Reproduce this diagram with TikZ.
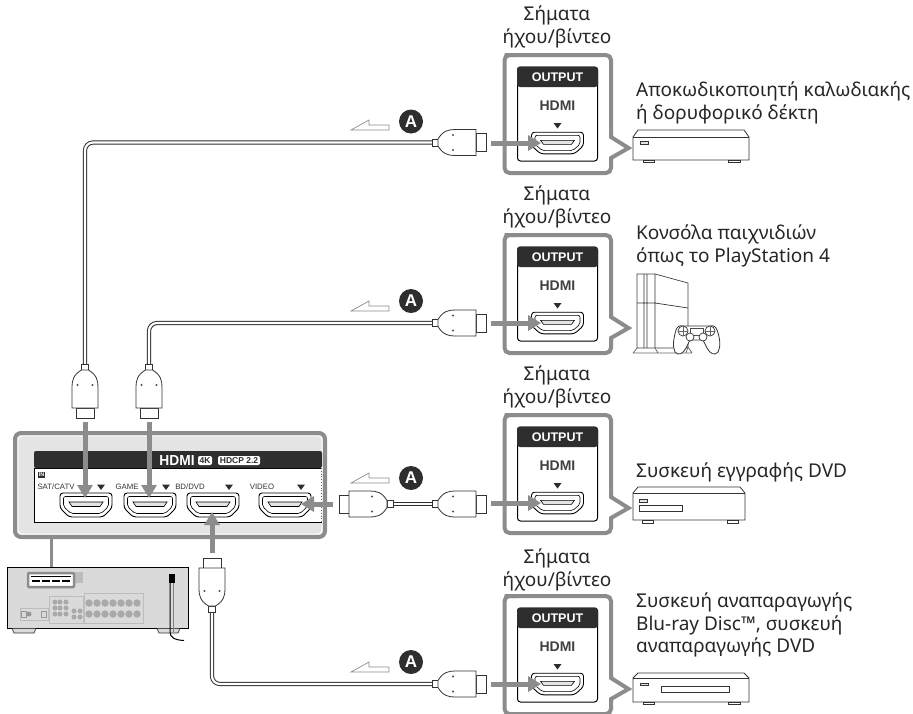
\documentclass[tikz,border=0pt]{standalone}
\usepackage{fontspec}
\setmainfont{Noto Sans}
\newfontfamily\lab{Liberation Sans}
\usetikzlibrary{arrows.meta}
\definecolor{grA}{HTML}{8C8C8C}
\definecolor{dk}{HTML}{2E2E2E}
\definecolor{pale}{HTML}{E4E4E4}
\definecolor{recv}{HTML}{DADADA}
\definecolor{conn}{HTML}{BDBDBD}
\tikzset{
 x=1pt,y=-1pt,
 txt/.style={font=\fontsize{19}{22.5}\selectfont,inner sep=0pt,text=black!85},
 lefttxt/.style={txt,align=left,anchor=west},
 midtxt/.style={txt,align=center},
 badge/.style={circle,fill=dk,text=white,inner sep=0pt,minimum size=24pt,font=\lab\bfseries\fontsize{17}{17}\selectfont},
 ray/.style={draw=grA,line width=5pt,-{Triangle[length=13pt,width=15pt]}},
 cable/.style={draw=dk,line width=1pt,double=white,double distance=2.2pt,rounded corners=8pt},
 smalllab/.style={font=\lab\fontsize{7.8}{8}\selectfont,text=black!80,inner sep=0pt},
 devline/.style={draw=black!80,line width=.8pt,fill=white},
 plug/.pic={
  \draw[black!80,line width=.8pt,fill=white] (0,-3.5) rectangle (6,3.5);
  \draw[black!80,line width=.8pt,fill=white] (44,-9) rectangle (54,9);
  \draw[black!80,line width=.8pt,fill=white] (6,-3.5) .. controls (11,-12) and (17,-13) .. (23,-13) -- (44,-13) -- (44,13) -- (23,13) .. controls (17,13) and (11,12) .. (6,3.5) -- cycle;
  \fill[black!70] (21,-7.5) circle (1.2) (21,7.5) circle (1.2);
 },
 port/.pic={
  \draw[black,line width=.9pt,fill=white,rounded corners=3pt] (-26,-12) -- (26,-12) -- (26,3) -- (17,12) -- (-17,12) -- (-26,3) -- cycle;
  \draw[black,line width=.6pt,rounded corners=2pt] (-22.5,-8.5) -- (22.5,-8.5) -- (22.5,1.5) -- (15,8.5) -- (-15,8.5) -- (-22.5,1.5) -- cycle;
  \draw[black,line width=.6pt,fill=pale] (-17,-3) -- (17,-3) -- (14,1.5) -- (-14,1.5) -- cycle;
 },
 tri/.pic={\fill[dk] (-4,-2.5) -- (4,-2.5) -- (0,3) -- cycle;},
 outpanel/.pic={
  \draw[grA,line width=4pt,fill=white,rounded corners=5pt] (-53,-87) -- (53.5,-87) -- (53.5,-6);
  \draw[grA,line width=4pt] (53.5,-8) -- (53.5,-5) -- (71,6) -- (53.5,16) -- (53.5,19);
  \draw[grA,line width=4pt,rounded corners=5pt] (53.5,17) -- (53.5,31) -- (-53,31) -- (-53,-87) -- (-40,-87);
  \draw[black,line width=1pt,fill=white,rounded corners=3pt] (-40,-75) rectangle (40,19);
  \fill[dk,rounded corners=3pt] (-40.5,-75.5) -- (40.5,-75.5) -- (40.5,-55) -- (-40.5,-55) -- cycle;
  \node[font=\lab\bfseries\fontsize{12.5}{13}\selectfont,text=white,inner sep=0pt] at (0,-65) {OUTPUT};
  \node[font=\lab\bfseries\fontsize{14}{14}\selectfont,text=black!75,inner sep=0pt] at (0,-36) {HDMI};
  \pic at (0,-16.5) {tri};
  \pic[yscale=.9] at (0,1) {port};
 },
 halfarrow/.pic={
  \draw[black!45,line width=.7pt,fill=white] (0,0) -- (18,-10) -- (18,-5) -- (38,-5) -- (38,0) -- cycle;
 },
}
\begin{document}
\begin{tikzpicture}
\useasboundingbox (0,0) rectangle (913,713);
% output panels
\foreach \yy in {142,322,502,683}{\pic at (557.5,\yy) {outpanel};}
% caption texts
\node[midtxt] (s1) at (557,27) {Σήματα\\ήχου/βίντεο};
\node[midtxt] (s2) at (557,207) {Σήματα\\ήχου/βίντεο};
\node[midtxt] (s3) at (557,387) {Σήματα\\ήχου/βίντεο};
\node[midtxt] (s4) at (557,570) {Σήματα\\ήχου/βίντεο};
\node[lefttxt] (d1) at (636,103) {Αποκωδικοποιητή καλωδιακής\\ή δορυφορικό δέκτη};
\node[lefttxt] (d2) at (636,246) {Κονσόλα παιχνιδιών\\όπως το PlayStation 4};
\node[lefttxt] (d3) at (636,472) {Συσκευή εγγραφής DVD};
\node[lefttxt] (d4) at (636,625) {Συσκευή αναπαραγωγής\\Blu-ray Disc™, συσκευή\\αναπαραγωγής DVD};
% device 1
\draw[devline] (633,137) -- (638,130) -- (744,130) -- (749,137) -- (749,160) -- (633,160) -- cycle;
\draw[black!80,line width=.6pt] (633,137) -- (749,137);
\draw[devline] (643,160) rectangle (654,162.5) (728,160) rectangle (740,162.5);
\draw[black!80,line width=.6pt,fill=pale] (640,141) rectangle (648,144);
% device 3
\draw[devline] (633,493) -- (638,487) -- (740,487) -- (745,493) -- (745,520) -- (633,520) -- cycle;
\draw[black!80,line width=.6pt] (633,493) -- (745,493);
\draw[devline] (642,520) rectangle (653,523) (727,520) rectangle (738,523);
\draw[black!80,line width=.6pt,fill=pale] (639,499) rectangle (647,502);
\draw[black!80,line width=.7pt] (639,505) rectangle (682,511);
% device 4
\draw[devline] (633,678) -- (638,673) -- (744,673) -- (749,678) -- (749,702) -- (633,702) -- cycle;
\draw[black!80,line width=.6pt] (633,678) -- (749,678);
\draw[devline] (643,702) rectangle (654,704.5) (728,702) rectangle (740,704.5);
\draw[black!80,line width=.6pt,fill=pale] (640,683) rectangle (648,685.5);
\draw[black!80,line width=.7pt] (661,686) rectangle (729,692);
% console
\draw[black!75,line width=.7pt,fill=white] (637,348) -- (637,274) -- (655,274) -- (688,283) -- (688,348) -- cycle;
\draw[black!80,line width=.7pt] (644,274) -- (644,348) (647,274) -- (647,348) (655,274) -- (655,348) (637,303) -- (655,303) -- (688,308);
\draw[black!60,line width=.7pt] (633,353) -- (637,348) (655,348) -- (658,353) (633,353) -- (692,353) (686,353) -- (688,347) -- (692,353);
\draw[black!80,line width=.8pt,fill=white] (683,326) -- (710,326) .. controls (714,325) and (716,327) .. (717,330) .. controls (720,338) and (721,347) .. (718,352) .. controls (715,356) and (710,354) .. (707,348) -- (703,340) -- (690,340) -- (686,348) .. controls (683,354) and (678,356) .. (675,352) .. controls (672,346) and (674,337) .. (676,330) .. controls (677,327) and (679,325) .. (683,326) -- cycle;
\draw[black!70,line width=.5pt] (690,328) rectangle (703,335);
\draw[black!80,line width=.7pt,fill=white] (683,331) circle (5) (710,331) circle (5);
\draw[black!60,line width=.4pt] (678,331) -- (688,331) (683,326) -- (683,336) (705,331) -- (715,331) (710,326) -- (710,336);
\draw[black!80,line width=.7pt,fill=white] (690,337) circle (4) (703,337) circle (4);
% main panel
\draw[grA,line width=4pt,fill=pale,rounded corners=6pt] (15,433) rectangle (325,537);
\draw[white,line width=.9pt,rounded corners=4pt] (18,436) rectangle (322,534);
\draw[black,line width=.9pt,fill=white] (322,468) -- (34,468) -- (34,522) -- (322,522);
\draw[black!60,line width=.8pt,dotted] (321,468) -- (321,522);
\fill[dk,rounded corners=2pt] (34,451) -- (322,451) -- (322,468) -- (34,468) -- cycle;
\node[font=\lab\bfseries\fontsize{14.5}{14}\selectfont,text=white,inner sep=0pt,xscale=.95] (hdmi) at (177,461) {HDMI};
\node[fill=white,rounded corners=2pt,inner sep=1pt,font=\lab\bfseries\fontsize{8.5}{9}\selectfont,text=dk,minimum width=14pt,minimum height=9pt] (fourk) at (205,460.5) {4K};
\node[fill=white,rounded corners=2pt,inner sep=1pt,font=\lab\bfseries\fontsize{8.5}{9}\selectfont,text=dk,minimum width=42pt,minimum height=9pt] (hdcp) at (239,460.5) {HDCP 2.2};
\node[fill=dk,text=white,font=\lab\bfseries\fontsize{5.5}{6}\selectfont,inner sep=.8pt] (inlab) at (41.5,475) {IN};
\node[smalllab] (l1) at (56,487) {SAT/CATV};
\node[smalllab] (l2) at (127,487) {GAME};
\node[smalllab] (l3) at (190,487) {BD/DVD};
\node[smalllab] (l4) at (262,487) {VIDEO};
\foreach \xx in {101,166,229,301}{\pic at (\xx,487) {tri};}
\foreach \xx in {86,150,213,285}{\pic at (\xx,505) {port};}
% connector from panel to receiver
\draw[grA,line width=3pt] (51,537) -- (51,572);
% receiver
\draw[black,line width=.9pt,fill=recv] (7,567.5) -- (188,567.5) -- (188,628.5) -- (7,628.5) -- cycle;
\draw[black!80,line width=.7pt,fill=recv] (12,628.5) -- (14,633) -- (34,633) -- (36,628.5) (157,628.5) -- (159,633) -- (178,633) -- (180,628.5);
\fill[conn] (75,572) rectangle (83,583);
\draw[conn,line width=1pt] (49,596) rectangle (83,623) (84,593) rectangle (143,623) (20,608) rectangle (48,620);
\foreach \xx in {89,97,105,113,121,129,137}{\fill[conn!70!black!70] (\xx,603) circle (3.7) (\xx,614) circle (3.7);}
\foreach \xx in {55,60,66}{\foreach \yy in {602,608,614}{\fill[conn!70!black!70] (\xx,\yy) circle (2.5);}}
\foreach \xx in {74,80}{\foreach \yy in {611,617}{\fill[conn!70!black!70] (\xx,\yy) circle (2.5);}}
\draw[conn!80!black,line width=1pt] (21,611) rectangle (26,617) (41,611) rectangle (46,617);
\fill[conn!80!black] (29,614) circle (2.5);
\draw[grA,line width=2.5pt,fill=white,rounded corners=1pt] (28,573) rectangle (74,587);
\draw[black,line width=1.6pt] (31,576.5) -- (71,576.5);
\foreach \xx in {32,42,52,62}{\draw[black,line width=2.6pt] (\xx,581) -- (\xx+8,581);}
\fill[black] (168.5,574) rectangle (175,583);
\draw[black,line width=1pt] (170,583) -- (170,632) .. controls (170,637) and (174,640) .. (184,640.5);
\draw[black!50,line width=.6pt] (173,583) -- (173,632);
% cables
\coordinate (c1a) at (85,364);
\coordinate (c1b) at (432,142.5);
\coordinate (c2a) at (149,364);
\coordinate (c2b) at (432,323);
\coordinate (c3a) at (393,504);
\coordinate (c3b) at (432,504);
\coordinate (c4a) at (212,612);
\coordinate (c4b) at (432,684);
\draw[cable] (c1a) |- (c1b);
\draw[cable] (c2a) |- (c2b);
\draw[cable] (c3a) -- (c3b);
\draw[cable] (c4a) |- (c4b);
% plugs
\pic at (c1b) {plug};
\pic at (c2b) {plug};
\pic at (c3b) {plug};
\pic at (c4b) {plug};
\pic[rotate=-90] at (c1a) {plug};
\pic[rotate=-90] at (c2a) {plug};
\pic[rotate=180] at (c3a) {plug};
\pic[rotate=90] at (c4a) {plug};
% arrows
\coordinate (r1) at (491,143); \coordinate (t1) at (541,143);
\coordinate (r2) at (491,323); \coordinate (t2) at (541,323);
\coordinate (r3) at (491,503); \coordinate (t3) at (541,503);
\coordinate (r4) at (491,684); \coordinate (t4) at (541,684);
\coordinate (r5) at (85,422); \coordinate (t5) at (85,498);
\coordinate (r6) at (149,422); \coordinate (t6) at (149,498);
\coordinate (r7) at (212,553); \coordinate (t7) at (212,512);
\coordinate (r8) at (333,504); \coordinate (t8) at (301,504);
\foreach \i in {1,...,8}{\draw[ray] (r\i) -- (t\i);}
% labels A and direction
\pic at (351,130) {halfarrow};
\pic at (351,311) {halfarrow};
\pic at (351,483) {halfarrow};
\pic at (351,672) {halfarrow};
\node[badge] (a1) at (411,121.5) {A};
\node[badge] (a2) at (411,301) {A};
\node[badge] (a3) at (411,478) {A};
\node[badge] (a4) at (411,662) {A};
\end{tikzpicture}
\end{document}
